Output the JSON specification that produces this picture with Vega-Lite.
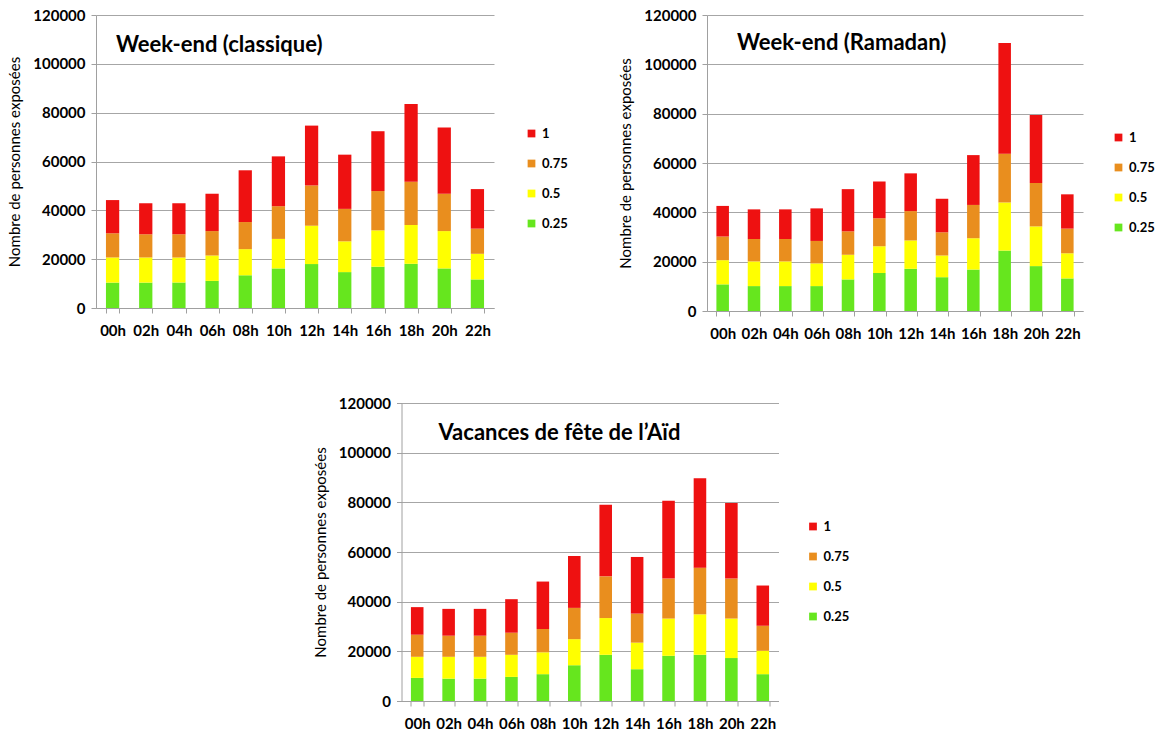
{
  "$schema": "https://vega.github.io/schema/vega-lite/v6.json",
  "background": "white",
  "padding": {"left": 7, "top": 8, "right": 0, "bottom": 0},
  "config": {
    "view": {"stroke": null},
    "font": "Lato",
    "axis": {
      "labelFont": "Lato", "labelFontSize": 15, "labelFontWeight": "bold", "labelColor": "black",
      "titleFont": "Lato", "titleFontSize": 15, "titleFontWeight": "normal", "titleColor": "black",
      "domainColor": "#A0A0A0", "tickColor": "#A0A0A0", "gridColor": "#A6A6A6"
    },
    "legend": {
      "labelFont": "Lato", "labelFontSize": 13, "labelFontWeight": "bold", "labelColor": "black",
      "symbolType": "square", "symbolSize": 60, "symbolStrokeWidth": 0, "rowPadding": 16, "padding": 0, "labelOffset": 4
    },
    "title": {"font": "Lato", "fontSize": 22, "fontWeight": "bold", "color": "black", "anchor": "start", "frame": "group", "baseline": "middle", "offset": 0}
  },
  "data": {"values": [
    {"periode":"classique","heure":"00h","niveau":0.25,"valeur":10400},{"periode":"classique","heure":"00h","niveau":0.5,"valeur":10300},{"periode":"classique","heure":"00h","niveau":0.75,"valeur":9900},{"periode":"classique","heure":"00h","niveau":1,"valeur":13600},
    {"periode":"classique","heure":"02h","niveau":0.25,"valeur":10400},{"periode":"classique","heure":"02h","niveau":0.5,"valeur":10300},{"periode":"classique","heure":"02h","niveau":0.75,"valeur":9500},{"periode":"classique","heure":"02h","niveau":1,"valeur":12700},
    {"periode":"classique","heure":"04h","niveau":0.25,"valeur":10400},{"periode":"classique","heure":"04h","niveau":0.5,"valeur":10300},{"periode":"classique","heure":"04h","niveau":0.75,"valeur":9500},{"periode":"classique","heure":"04h","niveau":1,"valeur":12700},
    {"periode":"classique","heure":"06h","niveau":0.25,"valeur":11100},{"periode":"classique","heure":"06h","niveau":0.5,"valeur":10400},{"periode":"classique","heure":"06h","niveau":0.75,"valeur":10000},{"periode":"classique","heure":"06h","niveau":1,"valeur":15300},
    {"periode":"classique","heure":"08h","niveau":0.25,"valeur":13400},{"periode":"classique","heure":"08h","niveau":0.5,"valeur":10700},{"periode":"classique","heure":"08h","niveau":0.75,"valeur":11100},{"periode":"classique","heure":"08h","niveau":1,"valeur":21200},
    {"periode":"classique","heure":"10h","niveau":0.25,"valeur":16200},{"periode":"classique","heure":"10h","niveau":0.5,"valeur":12100},{"periode":"classique","heure":"10h","niveau":0.75,"valeur":13400},{"periode":"classique","heure":"10h","niveau":1,"valeur":20400},
    {"periode":"classique","heure":"12h","niveau":0.25,"valeur":18000},{"periode":"classique","heure":"12h","niveau":0.5,"valeur":15700},{"periode":"classique","heure":"12h","niveau":0.75,"valeur":16500},{"periode":"classique","heure":"12h","niveau":1,"valeur":24500},
    {"periode":"classique","heure":"14h","niveau":0.25,"valeur":14700},{"periode":"classique","heure":"14h","niveau":0.5,"valeur":12600},{"periode":"classique","heure":"14h","niveau":0.75,"valeur":13300},{"periode":"classique","heure":"14h","niveau":1,"valeur":22200},
    {"periode":"classique","heure":"16h","niveau":0.25,"valeur":16900},{"periode":"classique","heure":"16h","niveau":0.5,"valeur":14900},{"periode":"classique","heure":"16h","niveau":0.75,"valeur":16100},{"periode":"classique","heure":"16h","niveau":1,"valeur":24500},
    {"periode":"classique","heure":"18h","niveau":0.25,"valeur":18100},{"periode":"classique","heure":"18h","niveau":0.5,"valeur":15900},{"periode":"classique","heure":"18h","niveau":0.75,"valeur":17700},{"periode":"classique","heure":"18h","niveau":1,"valeur":31800},
    {"periode":"classique","heure":"20h","niveau":0.25,"valeur":16200},{"periode":"classique","heure":"20h","niveau":0.5,"valeur":15300},{"periode":"classique","heure":"20h","niveau":0.75,"valeur":15300},{"periode":"classique","heure":"20h","niveau":1,"valeur":27100},
    {"periode":"classique","heure":"22h","niveau":0.25,"valeur":11700},{"periode":"classique","heure":"22h","niveau":0.5,"valeur":10500},{"periode":"classique","heure":"22h","niveau":0.75,"valeur":10300},{"periode":"classique","heure":"22h","niveau":1,"valeur":16200},

    {"periode":"ramadan","heure":"00h","niveau":0.25,"valeur":10800},{"periode":"ramadan","heure":"00h","niveau":0.5,"valeur":9800},{"periode":"ramadan","heure":"00h","niveau":0.75,"valeur":9600},{"periode":"ramadan","heure":"00h","niveau":1,"valeur":12400},
    {"periode":"ramadan","heure":"02h","niveau":0.25,"valeur":10100},{"periode":"ramadan","heure":"02h","niveau":0.5,"valeur":10000},{"periode":"ramadan","heure":"02h","niveau":0.75,"valeur":9100},{"periode":"ramadan","heure":"02h","niveau":1,"valeur":12000},
    {"periode":"ramadan","heure":"04h","niveau":0.25,"valeur":10100},{"periode":"ramadan","heure":"04h","niveau":0.5,"valeur":10000},{"periode":"ramadan","heure":"04h","niveau":0.75,"valeur":9100},{"periode":"ramadan","heure":"04h","niveau":1,"valeur":12000},
    {"periode":"ramadan","heure":"06h","niveau":0.25,"valeur":10100},{"periode":"ramadan","heure":"06h","niveau":0.5,"valeur":9200},{"periode":"ramadan","heure":"06h","niveau":0.75,"valeur":9100},{"periode":"ramadan","heure":"06h","niveau":1,"valeur":13200},
    {"periode":"ramadan","heure":"08h","niveau":0.25,"valeur":12800},{"periode":"ramadan","heure":"08h","niveau":0.5,"valeur":10000},{"periode":"ramadan","heure":"08h","niveau":0.75,"valeur":9500},{"periode":"ramadan","heure":"08h","niveau":1,"valeur":17100},
    {"periode":"ramadan","heure":"10h","niveau":0.25,"valeur":15400},{"periode":"ramadan","heure":"10h","niveau":0.5,"valeur":10900},{"periode":"ramadan","heure":"10h","niveau":0.75,"valeur":11300},{"periode":"ramadan","heure":"10h","niveau":1,"valeur":14900},
    {"periode":"ramadan","heure":"12h","niveau":0.25,"valeur":17100},{"periode":"ramadan","heure":"12h","niveau":0.5,"valeur":11500},{"periode":"ramadan","heure":"12h","niveau":0.75,"valeur":11900},{"periode":"ramadan","heure":"12h","niveau":1,"valeur":15300},
    {"periode":"ramadan","heure":"14h","niveau":0.25,"valeur":13700},{"periode":"ramadan","heure":"14h","niveau":0.5,"valeur":8800},{"periode":"ramadan","heure":"14h","niveau":0.75,"valeur":9400},{"periode":"ramadan","heure":"14h","niveau":1,"valeur":13600},
    {"periode":"ramadan","heure":"16h","niveau":0.25,"valeur":16800},{"periode":"ramadan","heure":"16h","niveau":0.5,"valeur":12700},{"periode":"ramadan","heure":"16h","niveau":0.75,"valeur":13500},{"periode":"ramadan","heure":"16h","niveau":1,"valeur":20200},
    {"periode":"ramadan","heure":"18h","niveau":0.25,"valeur":24500},{"periode":"ramadan","heure":"18h","niveau":0.5,"valeur":19500},{"periode":"ramadan","heure":"18h","niveau":0.75,"valeur":19800},{"periode":"ramadan","heure":"18h","niveau":1,"valeur":44800},
    {"periode":"ramadan","heure":"20h","niveau":0.25,"valeur":18200},{"periode":"ramadan","heure":"20h","niveau":0.5,"valeur":16100},{"periode":"ramadan","heure":"20h","niveau":0.75,"valeur":17600},{"periode":"ramadan","heure":"20h","niveau":1,"valeur":27600},
    {"periode":"ramadan","heure":"22h","niveau":0.25,"valeur":13200},{"periode":"ramadan","heure":"22h","niveau":0.5,"valeur":10200},{"periode":"ramadan","heure":"22h","niveau":0.75,"valeur":10000},{"periode":"ramadan","heure":"22h","niveau":1,"valeur":13900},

    {"periode":"aid","heure":"00h","niveau":0.25,"valeur":9300},{"periode":"aid","heure":"00h","niveau":0.5,"valeur":8500},{"periode":"aid","heure":"00h","niveau":0.75,"valeur":8900},{"periode":"aid","heure":"00h","niveau":1,"valeur":11100},
    {"periode":"aid","heure":"02h","niveau":0.25,"valeur":9000},{"periode":"aid","heure":"02h","niveau":0.5,"valeur":8800},{"periode":"aid","heure":"02h","niveau":0.75,"valeur":8500},{"periode":"aid","heure":"02h","niveau":1,"valeur":10800},
    {"periode":"aid","heure":"04h","niveau":0.25,"valeur":9000},{"periode":"aid","heure":"04h","niveau":0.5,"valeur":8800},{"periode":"aid","heure":"04h","niveau":0.75,"valeur":8500},{"periode":"aid","heure":"04h","niveau":1,"valeur":10800},
    {"periode":"aid","heure":"06h","niveau":0.25,"valeur":9700},{"periode":"aid","heure":"06h","niveau":0.5,"valeur":8900},{"periode":"aid","heure":"06h","niveau":0.75,"valeur":8900},{"periode":"aid","heure":"06h","niveau":1,"valeur":13500},
    {"periode":"aid","heure":"08h","niveau":0.25,"valeur":10800},{"periode":"aid","heure":"08h","niveau":0.5,"valeur":8800},{"periode":"aid","heure":"08h","niveau":0.75,"valeur":9400},{"periode":"aid","heure":"08h","niveau":1,"valeur":19100},
    {"periode":"aid","heure":"10h","niveau":0.25,"valeur":14400},{"periode":"aid","heure":"10h","niveau":0.5,"valeur":10500},{"periode":"aid","heure":"10h","niveau":0.75,"valeur":12600},{"periode":"aid","heure":"10h","niveau":1,"valeur":20900},
    {"periode":"aid","heure":"12h","niveau":0.25,"valeur":18600},{"periode":"aid","heure":"12h","niveau":0.5,"valeur":14800},{"periode":"aid","heure":"12h","niveau":0.75,"valeur":16800},{"periode":"aid","heure":"12h","niveau":1,"valeur":28800},
    {"periode":"aid","heure":"14h","niveau":0.25,"valeur":12800},{"periode":"aid","heure":"14h","niveau":0.5,"valeur":10700},{"periode":"aid","heure":"14h","niveau":0.75,"valeur":11700},{"periode":"aid","heure":"14h","niveau":1,"valeur":22800},
    {"periode":"aid","heure":"16h","niveau":0.25,"valeur":18200},{"periode":"aid","heure":"16h","niveau":0.5,"valeur":15000},{"periode":"aid","heure":"16h","niveau":0.75,"valeur":16100},{"periode":"aid","heure":"16h","niveau":1,"valeur":31300},
    {"periode":"aid","heure":"18h","niveau":0.25,"valeur":18600},{"periode":"aid","heure":"18h","niveau":0.5,"valeur":16300},{"periode":"aid","heure":"18h","niveau":0.75,"valeur":18800},{"periode":"aid","heure":"18h","niveau":1,"valeur":36000},
    {"periode":"aid","heure":"20h","niveau":0.25,"valeur":17300},{"periode":"aid","heure":"20h","niveau":0.5,"valeur":15900},{"periode":"aid","heure":"20h","niveau":0.75,"valeur":16100},{"periode":"aid","heure":"20h","niveau":1,"valeur":30400},
    {"periode":"aid","heure":"22h","niveau":0.25,"valeur":10800},{"periode":"aid","heure":"22h","niveau":0.5,"valeur":9400},{"periode":"aid","heure":"22h","niveau":0.75,"valeur":10100},{"periode":"aid","heure":"22h","niveau":1,"valeur":16200}
  ]},
  "spacing": 55,
  "center": true,
  "resolve": {"scale": {"color": "independent"}, "legend": {"color": "independent"}},
  "vconcat": [
    {
      "spacing": 50,
      "resolve": {"scale": {"color": "independent"}, "legend": {"color": "independent"}},
      "hconcat": [
        {
          "width": 398, "height": 293,
          "title": {"text": "Week-end (classique)", "dx": 20, "dy": 53},
          "transform": [{"filter": "datum.periode === 'classique'"}],
          "mark": {"type": "bar"},
          "encoding": {
            "x": {"field": "heure", "type": "ordinal", "scale": {"paddingInner": 0.6, "paddingOuter": 0.3},
                  "axis": {"title": null, "labelAngle": 0, "tickBand": "extent", "tickSize": 5, "labelPadding": 10}},
            "y": {"field": "valeur", "type": "quantitative", "stack": "zero", "scale": {"domain": [0, 120000]},
                  "axis": {"values": [0, 20000, 40000, 60000, 80000, 100000, 120000], "format": "d", "title": "Nombre de personnes exposées", "tickSize": 5, "labelPadding": 6, "titlePadding": 10}},
            "color": {"field": "niveau", "type": "ordinal",
                      "scale": {"domain": [1, 0.75, 0.5, 0.25], "range": ["#EE1111", "#E98E1E", "#FFFF00", "#66E61E"]},
                      "legend": {"title": null, "orient": "none", "legendX": 429, "legendY": 112}},
            "order": {"field": "niveau", "type": "quantitative", "sort": "ascending"}
          }
        },
        {
          "width": 376, "height": 296,
          "title": {"text": "Week-end (Ramadan)", "dx": 30, "dy": 51},
          "transform": [{"filter": "datum.periode === 'ramadan'"}],
          "mark": {"type": "bar"},
          "encoding": {
            "x": {"field": "heure", "type": "ordinal", "scale": {"paddingInner": 0.6, "paddingOuter": 0.3},
                  "axis": {"title": null, "labelAngle": 0, "tickBand": "extent", "tickSize": 5, "labelPadding": 10}},
            "y": {"field": "valeur", "type": "quantitative", "stack": "zero", "scale": {"domain": [0, 120000]},
                  "axis": {"values": [0, 20000, 40000, 60000, 80000, 100000, 120000], "format": "d", "title": "Nombre de personnes exposées", "tickSize": 5, "labelPadding": 6, "titlePadding": 10}},
            "color": {"field": "niveau", "type": "ordinal",
                      "scale": {"domain": [1, 0.75, 0.5, 0.25], "range": ["#EE1111", "#E98E1E", "#FFFF00", "#66E61E"]},
                      "legend": {"title": null, "orient": "none", "legendX": 405, "legendY": 116}},
            "order": {"field": "niveau", "type": "quantitative", "sort": "ascending"}
          }
        }
      ]
    },
    {
      "width": 377, "height": 298,
      "title": {"text": "Vacances de fête de l’Aïd", "dx": 37, "dy": 53},
      "transform": [{"filter": "datum.periode === 'aid'"}],
      "mark": {"type": "bar"},
      "encoding": {
        "x": {"field": "heure", "type": "ordinal", "scale": {"paddingInner": 0.6, "paddingOuter": 0.3},
              "axis": {"title": null, "labelAngle": 0, "tickBand": "extent", "tickSize": 5, "labelPadding": 10}},
        "y": {"field": "valeur", "type": "quantitative", "stack": "zero", "scale": {"domain": [0, 120000]},
              "axis": {"values": [0, 20000, 40000, 60000, 80000, 100000, 120000], "format": "d", "title": "Nombre de personnes exposées", "tickSize": 5, "labelPadding": 6, "titlePadding": 10}},
        "color": {"field": "niveau", "type": "ordinal",
                  "scale": {"domain": [1, 0.75, 0.5, 0.25], "range": ["#EE1111", "#E98E1E", "#FFFF00", "#66E61E"]},
                  "legend": {"title": null, "orient": "none", "legendX": 405, "legendY": 117}},
        "order": {"field": "niveau", "type": "quantitative", "sort": "ascending"}
      }
    }
  ]
}
